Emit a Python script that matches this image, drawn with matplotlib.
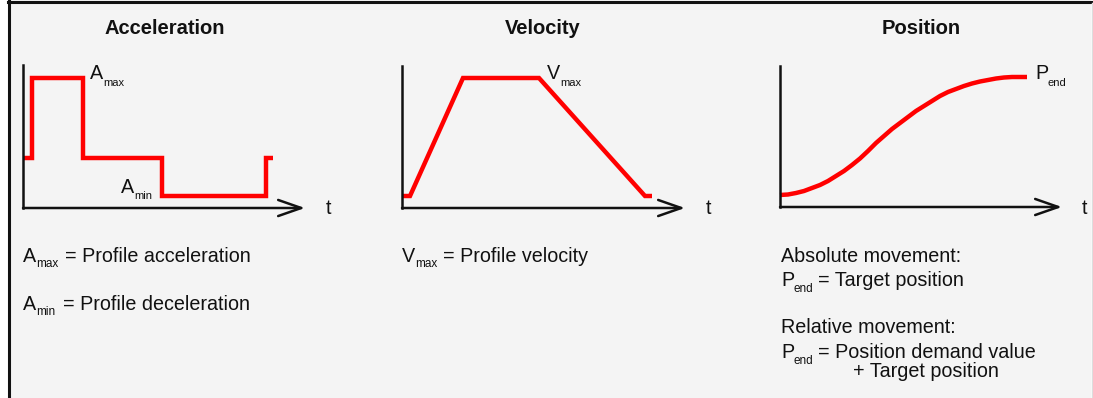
import matplotlib
matplotlib.use('Agg')
import matplotlib.pyplot as plt
from matplotlib.patches import Rectangle
from matplotlib.lines import Line2D

plt.rcParams['font.family'] = ['Liberation Sans', 'DejaVu Sans']

W, H = 1093, 398

# acceleration step profile (time, level), levels hold until next time
accTime = [0, 9, 60, 139, 243, 250]
accLevel = [50, 130, 50, 12, 50, 50]

# velocity trapezoid
velTime = [1, 8, 61, 137, 243, 250]
velLevel = [12, 12, 130, 130, 12, 12]

# position s-curve
posTime = [0, 8, 16, 24, 32, 40, 48, 56, 64, 72, 80, 88, 96, 104, 112, 120,
           128, 136, 144, 152, 160, 168, 176, 184, 192, 200, 208, 216, 224, 232, 240, 247]
posLevel = [12, 12.5, 14, 16, 19, 22, 26, 31, 36, 42, 48.5, 56, 64, 71, 78, 84,
            90, 96, 101, 106, 111, 115, 118, 121, 123.5, 125.5, 127, 128.5, 129.5, 130, 130, 130]

titles = ['Acceleration', 'Velocity', 'Position']

RED = '#ff0000'
INK = '#111111'


def fx(x):
    return x / W


def fy(y):
    return 1 - y / H


def ptext(x, y, s, size=14.2, **kw):
    fig.text(fx(x), fy(y), s, fontsize=size, color=INK, va='baseline', **kw)


def subbed(x, y, main, sub, rest=None, restX=None, subDx=13, subDy=5, subSize=8.5):
    ptext(x, y, main)
    ptext(x + subDx, y + subDy, sub, size=subSize)
    if rest is not None:
        ptext(restX, y, rest)


def panel(left, right, top, bottom):
    ax = fig.add_axes([fx(left), fy(bottom), fx(right - left), (bottom - top) / H])
    ax.set_xlim(0, right - left)
    ax.set_ylim(0, bottom - top)
    ax.patch.set_visible(False)
    for side in ['top', 'right', 'bottom']:
        ax.spines[side].set_visible(False)
    ax.spines['left'].set_linewidth(1.8)
    ax.spines['left'].set_color(INK)
    ax.set_xticks([])
    ax.set_yticks([])
    ax.annotate('', xy=(1, 0), xytext=(0, 0), xycoords='axes fraction',
                arrowprops=dict(arrowstyle='->, head_length=1.66, head_width=0.58',
                                lw=1.8, color=INK, shrinkA=0, shrinkB=0,
                                mutation_scale=10))
    return ax


fig = plt.figure(figsize=(W / 100, H / 100), dpi=100)
fig.patch.set_facecolor('white')
fig.add_artist(Rectangle((fx(10), 0), fx(1081), 1, transform=fig.transFigure,
                         facecolor='#f4f4f4', edgecolor='none', zorder=-5))
# frame
fig.add_artist(Line2D([fx(8), 1], [fy(1.5), fy(1.5)], transform=fig.transFigure, color=INK, lw=2.2, zorder=-4))
fig.add_artist(Line2D([fx(9), fx(9)], [0, 1], transform=fig.transFigure, color=INK, lw=2.2, zorder=-4))
fig.add_artist(Line2D([fx(1091.5), fx(1091.5)], [0, fy(3)], transform=fig.transFigure, color='#dddddd', lw=1, zorder=-4))

# titles
for cx, title in zip([165, 543, 921], titles):
    fig.text(fx(cx), fy(28), title, fontsize=14.5, fontweight='bold', color=INK,
             ha='center', va='center')

ax1 = panel(23, 305, 65, 208)
ax1.step(accTime, accLevel, where='post', color=RED, lw=3.2, clip_on=False,
         solid_joinstyle='miter', solid_capstyle='butt')

ax2 = panel(402, 685, 66, 208)
ax2.plot(velTime, velLevel, color=RED, lw=3.2, clip_on=False,
         solid_joinstyle='miter', solid_capstyle='butt')

ax3 = panel(780, 1062, 66, 207)
ax3.plot(posTime, posLevel, color=RED, lw=3.2, clip_on=False,
         solid_capstyle='butt', solid_joinstyle='round')

for tx in [328, 708, 1085]:
    fig.text(fx(tx), fy(208), 't', fontsize=14.2, color=INK, ha='center', va='center')

# curve labels
subbed(90, 79, 'A', 'max', subDx=13, subDy=7, subSize=8)
subbed(121, 193, 'A', 'min', subDx=13, subDy=6, subSize=8)
subbed(547, 79, 'V', 'max', subDx=13, subDy=7, subSize=8)
subbed(1035, 79, 'P', 'end', subDx=13, subDy=7, subSize=8)

# descriptions
subbed(23, 262, 'A', 'max', '= Profile acceleration', 65)
subbed(23, 310, 'A', 'min', '= Profile deceleration', 63)
subbed(402, 262, 'V', 'max', '= Profile velocity', 443)
ptext(781, 262, 'Absolute movement:')
subbed(781, 286, 'P', 'end', '= Target position', 818, subDx=12, subDy=6)
ptext(781, 333, 'Relative movement:')
subbed(781, 358, 'P', 'end', '= Position demand value', 818, subDx=12, subDy=6)
ptext(853, 377, '+ Target position')

fig.savefig('out.png', dpi=100)
